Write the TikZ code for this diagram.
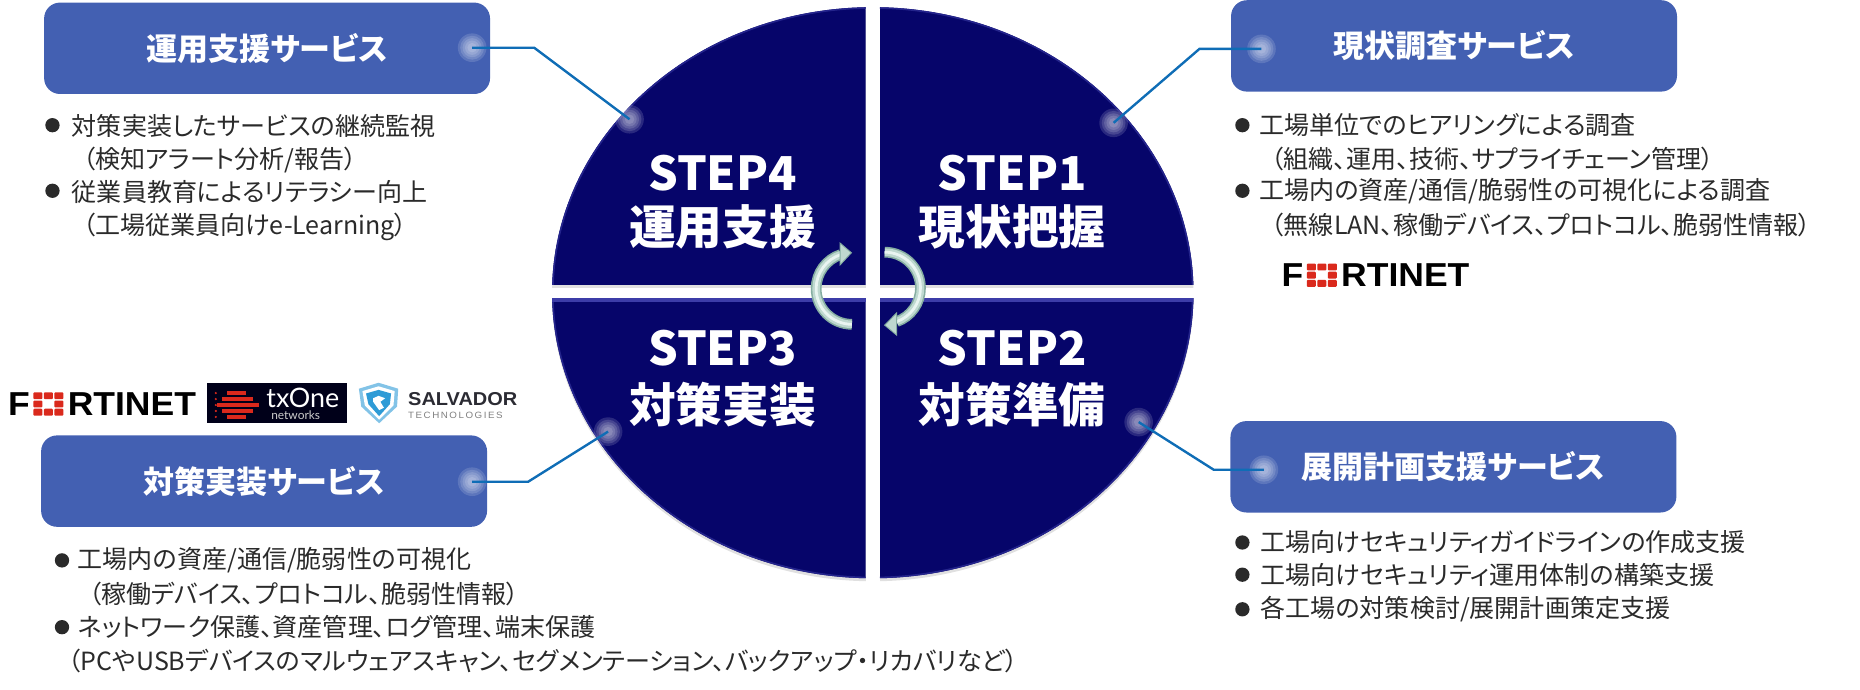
\documentclass[tikz,border=0pt]{standalone}
\usepackage{fontspec}
\setmainfont{Noto Sans CJK JP}
\newfontfamily\jp[RawFeature=+palt]{Noto Sans CJK JP}
\newfontfamily\logofont[FakeStretch=1.07]{Liberation Sans}
\newfontfamily\lato{Lato}
\definecolor{navyq}{HTML}{06056A}
\definecolor{navyedge}{HTML}{24248C}
\definecolor{navylight}{HTML}{3C3CA8}
\definecolor{boxblue}{HTML}{4360B2}
\definecolor{linkblue}{HTML}{0F6DB6}
\definecolor{bodyink}{HTML}{2A2A2A}
\definecolor{fortred}{HTML}{DA291C}
\definecolor{arrowdark}{HTML}{86AEA2}
\definecolor{arrowmid}{HTML}{BFD9D0}
\definecolor{arrowlight}{HTML}{E9F5F1}
\definecolor{salblue}{HTML}{2E9BD6}
\definecolor{salink}{HTML}{2B2B33}
\tikzset{
  svcbox/.style={fill=boxblue,rounded corners=8pt,inner sep=0pt,minimum width=224.4pt,minimum height=46pt,text=white,font=\jp\bfseries\fontsize{15.6pt}{18pt}\selectfont},
  steptext/.style={text=white,inner sep=0pt,font=\jp\bfseries\fontsize{23.5pt}{26pt}\selectfont},
  bodyline/.style={anchor=west,inner sep=0pt,text=bodyink,font=\jp\fontsize{12.6pt}{15pt}\selectfont},
  bulletdot/.style={circle,fill=bodyink,inner sep=0pt,minimum size=7.2pt},
  link/.style={draw=linkblue,line width=1.2pt},
  logotext/.style={anchor=west,inner sep=0pt,font=\logofont\bfseries\fontsize{16.7pt}{18pt}\selectfont},
}
\newcommand{\qsector}[4]{%
  \begin{scope}
    \clip (732,245.5) ellipse [x radius=269,y radius=239.5];
    \clip (#1,#2) rectangle (#3,#4);
    \fill[navyq] (#1,#2) rectangle (#3,#4);
    \draw[navyedge,line width=1.6pt] (732,245.5) ellipse [x radius=269,y radius=239.5];
  \end{scope}}
\newcommand{\glowat}[1]{%
  \foreach \gr in {12,10,8,6,4}{\fill[white,opacity=.14] (#1) circle [radius=\gr];}}
\newcommand{\fortlogo}[3]{% x, y(top), name
  \begin{scope}[shift={(#1,#2)}]
    \node[logotext] (#3a) at (-0.5,10) {F};
    \foreach \cx in {0,1,2}\foreach \cy in {0,1,2}{
      \ifnum\cx\cy=11\else
      \fill[fortred,rounded corners=.5pt] (21+\cx*8.8,\cy*6.9) rectangle ++(7.6,5.8);
      \fi}
    \node[logotext] (#3b) at (49.5,10) {RTINET};
  \end{scope}}
\begin{document}
\begin{tikzpicture}[x=0.6pt,y=-0.6pt]
\useasboundingbox (0,0) rectangle (1560,578);
% soft shadow of the disc
\begin{scope}
  \clip (0,0) rectangle (1560,578);
  \fill[black,opacity=.12] (732,248) ellipse [x radius=269,y radius=239.5];
  \fill[white] (726,0) rectangle (738,578);
  \fill[white] (400,241.5) rectangle (1060,250);
\end{scope}
\qsector{463}{0}{726}{239}
\qsector{738}{0}{1001}{239}
\qsector{463}{250}{726}{490}
\qsector{738}{250}{1001}{490}
\begin{scope}
  \clip (732,245.5) ellipse [x radius=269,y radius=239.5];
  \fill[navylight] (463,250) rectangle (726,253);
  \fill[navylight] (738,250) rectangle (1001,253);
\end{scope}
% service boxes
\node[svcbox] (svc4) at (224,40.5) {運用支援サービス};
\node[svcbox] (svc1) at (1219.5,38.5) {現状調査サービス};
\node[svcbox] (svc3) at (221.5,403.5) {対策実装サービス};
\node[svcbox] (svc2) at (1219,391.5) {展開計画支援サービス};
% connectors
\coordinate (a4) at (396,40);  \coordinate (k4) at (448,40);  \coordinate (e4) at (528,100);
\coordinate (a1) at (1058,41); \coordinate (k1) at (1006,41); \coordinate (e1) at (934,103);
\coordinate (a3) at (396,404); \coordinate (k3) at (443,404); \coordinate (e3) at (510,362);
\coordinate (a2) at (1060,394);\coordinate (k2) at (1018,394);\coordinate (e2) at (955,354);
\glowat{a4}\glowat{e4}\glowat{a1}\glowat{e1}\glowat{a3}\glowat{e3}\glowat{a2}\glowat{e2}
\draw[link] (a4) -- (k4) -- (e4);
\draw[link] (a1) -- (k1) -- (e1);
\draw[link] (a3) -- (k3) -- (e3);
\draw[link] (a2) -- (k2) -- (e2);
% step labels
\node[steptext] (s4a) at (606,145) {STEP4};
\node[steptext] (s4b) at (606,190) {運用支援};
\node[steptext] (s1a) at (849,145) {STEP1};
\node[steptext] (s1b) at (849,190) {現状把握};
\node[steptext] (s3a) at (606,292) {STEP3};
\node[steptext] (s3b) at (606,339) {対策実装};
\node[steptext] (s2a) at (849,292) {STEP2};
\node[steptext] (s2b) at (849,339) {対策準備};
% rotation arrows
\foreach \lw/\col in {5.4pt/arrowdark,3.8pt/arrowmid,1.4pt/arrowlight}{
  \draw[line width=\lw,color=\col] (714.5,272) arc [start angle=90,end angle=252,radius=30];
  \draw[line width=\lw,color=\col] (742,211.5) arc [start angle=-90,end angle=70.5,radius=30];
}
\fill[arrowmid,draw=arrowdark,line width=.5pt] (704.7,204) -- (714,212) -- (704.7,222) -- cycle;
\fill[arrowmid,draw=arrowdark,line width=.5pt] (752,262.5) -- (742,272.7) -- (752,281) -- cycle;
% body text, top left
\node[bulletdot] (b41) at (44,105) {};
\node[bodyline] (t41) at (60,106) {対策実装したサービスの継続監視};
\node[bodyline] (t42) at (69,134) {（検知アラート分析/報告）};
\node[bulletdot] (b42) at (44,160) {};
\node[bodyline] (t43) at (60,161) {従業員教育によるリテラシー向上};
\node[bodyline] (t44) at (69,190) {（工場従業員向けe-Learning）};
% body text, top right
\node[bulletdot] (b11) at (1042,105) {};
\node[bodyline] (t11) at (1056,105) {工場単位でのヒアリングによる調査};
\node[bodyline] (t12) at (1066,133) {（組織、運用、技術、サプライチェーン管理）};
\node[bulletdot] (b12) at (1042,160) {};
\node[bodyline] (t13) at (1056,160) {工場内の資産/通信/脆弱性の可視化による調査};
\node[bodyline] (t14) at (1066,189) {（無線LAN、稼働デバイス、プロトコル、脆弱性情報）};
% body text, bottom right
\node[bulletdot] (b21) at (1042,455) {};
\node[bodyline] (t21) at (1057,455) {工場向けセキュリティガイドラインの作成支援};
\node[bulletdot] (b22) at (1042,482) {};
\node[bodyline] (t22) at (1057,482) {工場向けセキュリティ運用体制の構築支援};
\node[bulletdot] (b23) at (1042,511) {};
\node[bodyline] (t23) at (1057,511) {各工場の対策検討/展開計画策定支援};
% body text, bottom left
\node[bulletdot] (b31) at (52,470) {};
\node[bodyline] (t31) at (65,470) {工場内の資産/通信/脆弱性の可視化};
\node[bodyline] (t32) at (74,498) {（稼働デバイス、プロトコル、脆弱性情報）};
\node[bulletdot] (b32) at (52,526) {};
\node[bodyline] (t33) at (65,526) {ネットワーク保護、資産管理、ログ管理、端末保護};
\node[bodyline] (t34) at (57,554) {（PCやUSBデバイスのマルウェアスキャン、セグメンテーション、バックアップ・リカバリなど）};
% logos
\fortlogo{7}{329}{fa}
\fortlogo{1075}{221}{fb}
\fill[black!90!blue] (174,321) rectangle (291,355);
\foreach \by/\bl/\br in {328/190/206,333/186/212,338/182/217,343/186/212,348/190/206}{
  \fill[fortred] (\bl,\by) rectangle (\br,\by+3.4);}
\foreach \dy in {328,333,338,343,348}{\fill[fortred] (181,\dy+1.7) circle [radius=1];}
\node[inner sep=0pt,text=white,font=\lato\fontsize{13.5pt}{14pt}\selectfont] (tx) at (254,334) {txOne};
\node[inner sep=0pt,text=white!80!black,font=\lato\fontsize{6pt}{7pt}\selectfont] (txn) at (248,348) {networks};
\fill[salblue!60!white] (317.5,321) -- (334,326) -- (333,341) -- (318,355) -- (303,341) -- (301,326) -- cycle;
\fill[white] (317.5,324) -- (331,328) -- (330,340) -- (318,352) -- (306,340) -- (304,328) -- cycle;
\fill[salblue] (317.5,327) -- (328,330) -- (327,339) -- (318,349) -- (309,339) -- (307,330) -- cycle;
\fill[white] (317.5,332) -- (323,334) -- (319,337) -- (322,342) -- (318,344) -- (313,337) -- (313,334) -- cycle;
\node[inner sep=0pt,anchor=west,text=salink,font=\logofont\bfseries\fontsize{9.4pt}{10pt}\selectfont] (sal) at (342,334.5) {SALVADOR};
\node[inner sep=0pt,anchor=west,text=gray,font=\logofont\fontsize{4.6pt}{5pt}\selectfont] (tec) at (342,348.5) {T\,E\,C\,H\,N\,O\,L\,O\,G\,I\,E\,S};
\end{tikzpicture}
\end{document}
